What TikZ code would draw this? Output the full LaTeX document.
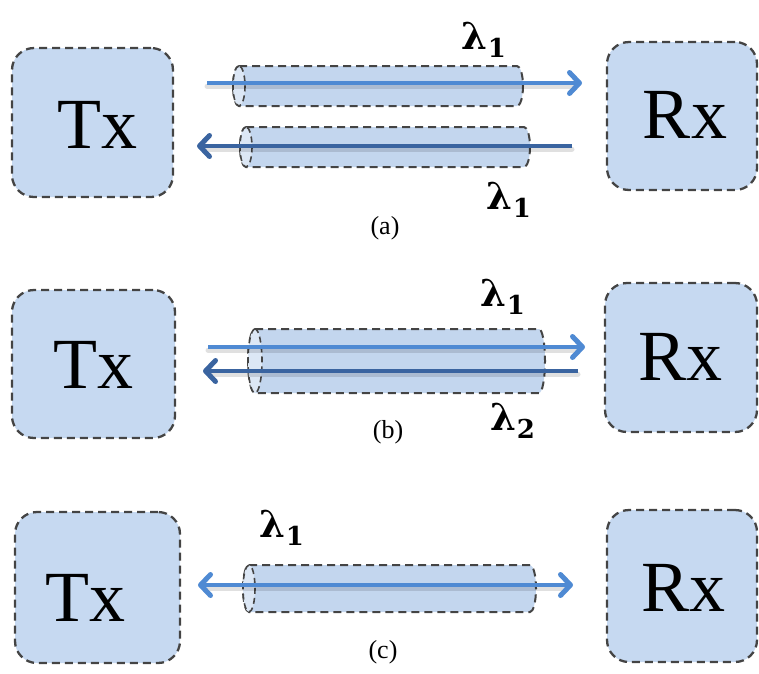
\documentclass[tikz,border=0pt]{standalone}
\usepackage{fontspec}
\setmainfont{Liberation Serif}
\newfontfamily\lamfont{DejaVu Serif}
\usetikzlibrary{arrows.meta}
\definecolor{boxfill}{HTML}{C6D9F1}
\definecolor{dashc}{HTML}{444444}
\definecolor{lightarrow}{HTML}{4F8AD3}
\definecolor{darkarrow}{HTML}{3A64A0}
\definecolor{fiberfill}{HTML}{C3D6EE}
\definecolor{fiberend}{HTML}{DCE7F5}
\tikzset{
  trx/.style={draw=dashc, dash pattern=on 8pt off 5pt, line width=2.3pt, fill=boxfill, rounded corners=22pt, inner sep=0pt},
  trxtext/.style={font=\fontsize{72}{72}\selectfont, inner sep=0pt},
  fib/.style={draw=dashc, dash pattern=on 8pt off 5pt, line width=2pt, fill=fiberfill},
  fibend/.style={draw=dashc, dash pattern=on 6pt off 4pt, line width=1.6pt, fill=fiberend},
  lam/.style={font=\lamfont\fontsize{37}{37}\bfseries, inner sep=0pt},
  captext/.style={font=\fontsize{26}{26}\selectfont, inner sep=0pt},
  ray/.style={line width=4pt, -{Straight Barb[length=10pt,width=21pt,line width=5pt,line cap=round,line join=round]}},
  raylight/.style={ray, draw=lightarrow},
  raydark/.style={ray, draw=darkarrow},
  shade/.style={line width=5pt, draw=black, opacity=0.12, line cap=round},
}
\newcommand\fibertube[5]{% x1 x2 ytop ybottom halfheight
  \path[fib] (#1,#3) -- (#2,#3) arc[start angle=90,end angle=-90,x radius=6pt,y radius=#5pt]
     -- (#1,#4) arc[start angle=270,end angle=90,x radius=6pt,y radius=#5pt] -- cycle;
  \path[fibend] (#1,#3) arc[start angle=90,end angle=450,x radius=6pt,y radius=#5pt];
}
\newcommand\lamone{λ{\fontsize{26}{26}\selectfont\raisebox{-8pt}{1}}}
\newcommand\lamtwo{λ{\fontsize{26}{26}\selectfont\raisebox{-8pt}{2}}}
\begin{document}
\begin{tikzpicture}[x=1pt,y=-1pt]
\useasboundingbox (0,0) rectangle (759,673);
% ---------- (a)
\node[trx, minimum width=161pt, minimum height=149pt] (txa) at (92.5,122.5) {};
\node[trxtext] (txat) at (97,125) {Tx};
\node[trx, minimum width=150pt, minimum height=148pt] (rxa) at (682,116) {};
\node[trxtext] (rxat) at (685,115) {Rx};
\fibertube{239}{517}{66}{106}{20}
\fibertube{246}{524}{127}{167}{20}
\coordinate (a1s) at (207,83); \coordinate (a1e) at (582,83);
\coordinate (a2s) at (572,146); \coordinate (a2e) at (197,146);
\draw[shade] ([yshift=-3pt]a1s) -- ([yshift=-3pt,xshift=-6pt]a1e);
\draw[shade] ([yshift=-3pt]a2s) -- ([yshift=-3pt,xshift=6pt]a2e);
\draw[raylight] (a1s) -- (a1e);
\draw[raydark] (a2s) -- (a2e);
\node[lam] (la1) at (484,40) {\lamone};
\node[lam] (la2) at (509,200) {\lamone};
\node[captext] (capa) at (385,228) {(a)};
% ---------- (b)
\node[trx, minimum width=163pt, minimum height=148pt] (txb) at (93.5,364) {};
\node[trxtext] (txbt) at (93,365) {Tx};
\node[trx, minimum width=152pt, minimum height=149pt] (rxb) at (681,357.5) {};
\node[trxtext] (rxbt) at (680,357) {Rx};
\path[fib] (255,329) -- (539,329) arc[start angle=90,end angle=-90,x radius=6pt,y radius=32pt]
   -- (255,393) arc[start angle=270,end angle=90,x radius=7pt,y radius=32pt] -- cycle;
\path[fibend] (255,329) arc[start angle=90,end angle=450,x radius=7pt,y radius=32pt];
\coordinate (b1s) at (208,347); \coordinate (b1e) at (585,347);
\coordinate (b2s) at (578,371); \coordinate (b2e) at (203,371);
\draw[shade] ([yshift=-3pt]b1s) -- ([yshift=-3pt,xshift=-6pt]b1e);
\draw[shade] ([yshift=-3pt]b2s) -- ([yshift=-3pt,xshift=6pt]b2e);
\draw[raylight] (b1s) -- (b1e);
\draw[raydark] (b2s) -- (b2e);
\node[lam] (lb1) at (503,297) {\lamone};
\node[lam] (lb2) at (513,421) {\lamtwo};
\node[captext] (capb) at (388,432) {(b)};
% ---------- (c)
\node[trx, minimum width=165pt, minimum height=151pt] (txc) at (97.5,587.5) {};
\node[trxtext] (txct) at (85,598) {Tx};
\node[trx, minimum width=150pt, minimum height=152pt] (rxc) at (682,586) {};
\node[trxtext] (rxct) at (683,588) {Rx};
\fibertube{249}{530}{565}{612}{23.5}
\coordinate (cs) at (198,585); \coordinate (ce) at (573,585);
\draw[shade] ([yshift=-3pt,xshift=6pt]cs) -- ([yshift=-3pt,xshift=-6pt]ce);
\draw[line width=4pt, draw=lightarrow, {Straight Barb[length=10pt,width=21pt,line width=5pt,line cap=round,line join=round]}-{Straight Barb[length=10pt,width=21pt,line width=5pt,line cap=round,line join=round]}] (cs) -- (ce);
\node[lam] (lc1) at (282,528) {\lamone};
\node[captext] (capc) at (383,652) {(c)};
\end{tikzpicture}
\end{document}
